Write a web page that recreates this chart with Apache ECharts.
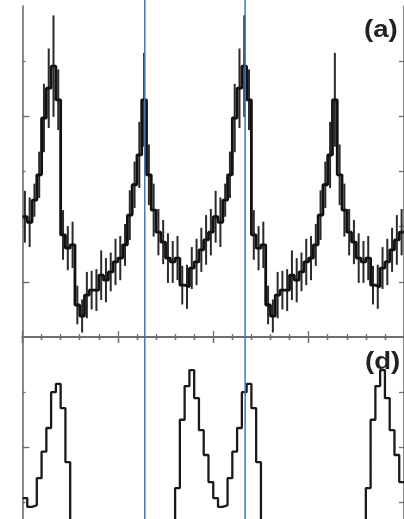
<!DOCTYPE html>
<html>
<head>
<meta charset="utf-8">
<script src="https://cdn.jsdelivr.net/npm/echarts@6/dist/echarts.min.js"></script>
<style>
  html, body { margin: 0; padding: 0; background: #fff; }
  #chart { width: 404px; height: 519px; }
</style>
</head>
<body>
<div id="chart"></div>
<script>
// Folded profiles: 40 phase bins per cycle, shown twice (phase 0-2)
const BINS_PER_CYCLE = 40;

// Panel (a): count rate per phase bin and its 1-sigma error
const rateA = [
  2.18, 2.08, 2.48, 2.94, 3.97, 4.51, 4.91, 4.30, 1.85, 1.61,
  1.67, 0.58, 0.38, 0.76, 0.85, 0.85, 1.12, 1.03, 1.18, 1.36,
  1.43, 1.67, 2.21, 2.76, 3.30, 4.30, 2.94, 2.30, 1.90, 1.72,
  1.43, 1.36, 1.43, 0.94, 0.91, 1.25, 1.36, 1.58, 1.76, 1.90
];
const errA = [
  0.47, 0.45, 0.30, 0.42, 0.62, 0.72, 0.92, 0.55, 0.45, 0.40,
  0.42, 0.35, 0.30, 0.42, 0.35, 0.38, 0.45, 0.40, 0.35, 0.42,
  0.40, 0.38, 0.45, 0.42, 0.60, 0.85, 0.55, 0.48, 0.42, 0.40,
  0.45, 0.38, 0.40, 0.35, 0.40, 0.38, 0.42, 0.40, 0.45, 0.42
];

// Panel (d): smoothed profile per phase bin
const rateD = [
  3.08, 2.92, 2.95, 3.44, 3.92, 4.35, 5.00, 5.15, 4.71, 3.73,
  2.59, 2.20, 1.80, 1.50, 1.30, 1.20, 1.10, 1.10, 1.20, 1.30,
  1.40, 1.50, 1.60, 1.70, 1.80, 1.80, 1.90, 2.00, 2.10, 2.20,
  2.40, 2.50, 3.26, 4.50, 5.11, 5.40, 4.89, 4.31, 3.86, 3.37
];

// Reference phases marked across both panels
const phaseMarks = [0.641, 1.167];
const panelLabels = ['(a)', '(d)'];
const minorTicksA = [1, 2, 3, 4, 5];
const majorTicksA = [1, 4];
const minorTicksD = [3, 4, 5];
const majorTicksD = [4];
// Panel (d) keeps the same vertical scale as (a); only its upper part fits on the page
const rangeA = [0, 6];
const rangeD = [2.70, 6];

function stepData(vals) {
  const out = [];
  for (let c = 0; c < 2; c++) {
    vals.forEach((v, i) => out.push([c + i / BINS_PER_CYCLE, v]));
  }
  out.push([2, vals[vals.length - 1]]);
  return out;
}
function errData(vals, errs) {
  const out = [];
  for (let c = 0; c < 2; c++) {
    vals.forEach((v, i) => out.push([c + (i + 0.5) / BINS_PER_CYCLE, v, errs[i]]));
  }
  return out;
}

const AXIS_COLOR = '#6e6e6e';
const axisLine = { show: true, lineStyle: { color: AXIS_COLOR, width: 1.6 } };
const tickStyle = { color: AXIS_COLOR, width: 1.3 };
const LABEL_FONT = 'bold 24px "Liberation Sans", Arial, sans-serif';

function phaseAxis(gridIndex, position) {
  return {
    type: 'value', gridIndex, position, min: 0, max: 2, interval: 0.5,
    axisLine,
    axisTick: { show: true, inside: true, length: 6, lineStyle: tickStyle },
    minorTick: { show: true, splitNumber: 5, length: 3, lineStyle: tickStyle },
    axisLabel: { show: false },
    splitLine: { show: false }
  };
}
function rateAxis(gridIndex, position, range, ticks, tickLen, showLine) {
  return {
    type: 'value', gridIndex, position, min: range[0], max: range[1],
    axisLine: showLine ? axisLine : { show: false },
    axisTick: { show: true, inside: true, length: tickLen, customValues: ticks, lineStyle: tickStyle },
    axisLabel: { show: false },
    splitLine: { show: false }
  };
}

const chart = echarts.init(document.getElementById('chart'), null, { renderer: 'canvas' });

chart.setOption({
  animation: false,
  backgroundColor: '#ffffff',
  grid: [
    { left: 22.5, top: 6, width: 384, height: 331 },
    { left: 22.5, top: 337, width: 384, height: 182 },
    { left: 22.5, top: 0, width: 384, height: 519 }
  ],
  xAxis: [
    phaseAxis(0, 'bottom'),
    phaseAxis(0, 'top'),
    phaseAxis(1, 'top'),
    { type: 'value', gridIndex: 2, min: 0, max: 2, show: false }
  ],
  yAxis: [
    rateAxis(0, 'left', rangeA, minorTicksA, 3, true),
    rateAxis(0, 'left', rangeA, majorTicksA, 7, false),
    rateAxis(0, 'right', rangeA, minorTicksA, 5, true),
    rateAxis(1, 'left', rangeD, minorTicksD, 3, true),
    rateAxis(1, 'left', rangeD, majorTicksD, 7, false),
    rateAxis(1, 'right', rangeD, minorTicksD, 5, true),
    { type: 'value', gridIndex: 2, min: 0, max: 1, show: false }
  ],
  graphic: [
    { type: 'text', x: 364, y: 18, scaleX: 1.15, z: 5,
      style: { text: panelLabels[0], font: LABEL_FONT, fill: '#222' } },
    { type: 'text', x: 365, y: 350, scaleX: 1.15, z: 1,
      style: { text: panelLabels[1], font: LABEL_FONT, fill: '#222' } }
  ],
  series: [
    {
      name: 'a-errors', type: 'custom', xAxisIndex: 0, yAxisIndex: 0, z: 3,
      data: errData(rateA, errA),
      renderItem(params, api) {
        const x = api.value(0), v = api.value(1), e = api.value(2);
        const p1 = api.coord([x, v - e]);
        const p2 = api.coord([x, v + e]);
        return { type: 'line', shape: { x1: p1[0], y1: p1[1], x2: p2[0], y2: p2[1] },
                 style: { stroke: '#2a2a2a', lineWidth: 2 } };
      }
    },
    {
      name: 'a-profile', type: 'line', xAxisIndex: 0, yAxisIndex: 0, z: 4,
      step: 'end', symbol: 'none',
      lineStyle: { color: '#111', width: 2.8 },
      data: stepData(rateA)
    },
    {
      name: 'd-profile', type: 'line', xAxisIndex: 2, yAxisIndex: 3, z: 4,
      step: 'end', symbol: 'none', clip: true,
      lineStyle: { color: '#1a1a1a', width: 2.3 },
      data: stepData(rateD)
    },
    {
      name: 'phase-marks', type: 'custom', xAxisIndex: 3, yAxisIndex: 6, z: 6,
      data: phaseMarks.map(p => [p]),
      renderItem(params, api) {
        const top = api.coord([api.value(0), 1]);
        const bot = api.coord([api.value(0), 0]);
        return { type: 'line', shape: { x1: top[0], y1: top[1], x2: bot[0], y2: bot[1] },
                 style: { stroke: '#3f78c0', lineWidth: 1.5 } };
      }
    }
  ]
});
</script>
</body>
</html>
